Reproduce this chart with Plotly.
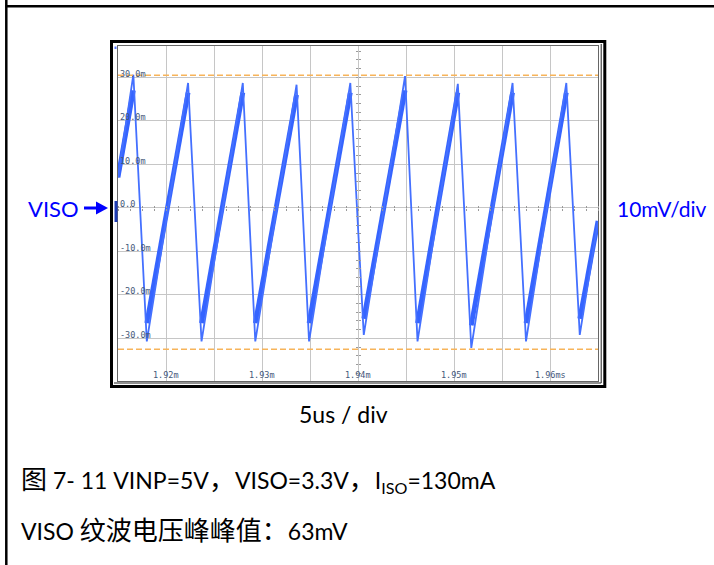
import plotly.graph_objects as go

# ---------------- data ----------------
# time in microseconds, voltage in mV
peak_t_us = [1916.6, 1922.3, 1928.0, 1933.6, 1939.2, 1944.9, 1950.4, 1956.1, 1961.7]
peak_mv = [30.6, 28.7, 28.7, 28.3, 28.7, 30.3, 28.5, 28.7, 28.7]
trough_t_us = [1918.0, 1923.7, 1929.3, 1934.9, 1940.6, 1946.2, 1951.8, 1957.5, 1963.1]
trough_mv = [-30.7, -30.7, -30.7, -30.7, -29.2, -30.7, -32.2, -30.7, -29.2]
band_top_mv = [27.0, 26.5, 26.5, 26.0, 26.5, 27.0, 26.5, 26.5, 26.5]
band_bot_mv = [-26.5, -26.5, -26.5, -26.5, -25.5, -26.5, -27.0, -26.5, -25.5]
start_t_us, start_mv = 1915.0, 7.0
end_t_us, end_mv = 1965.0, -3.0

cursor_mv = [30.5, -32.5]

x_tick_vals = [1920, 1930, 1940, 1950, 1960]
x_tick_text = ["1.92m", "1.93m", "1.94m", "1.95m", "1.96ms"]
y_tick_vals = [30, 20, 10, 0, -10, -20, -30]
y_tick_text = ["30.0m", "20.0m", "10.0m", "0.0", "-10.0m", "-20.0m", "-30.0m"]

X_RANGE = [1915, 1965]
Y_RANGE = [-39.8, 37.2]

CJK = '<span style="font-size:26px">{}</span>'
caption1 = CJK.format("图") + " 7- 11 VINP=5V" + CJK.format("，") + "VISO=3.3V" + CJK.format("，") \
    + "I<sub>ISO</sub>=130mA"
caption2 = "VISO " + CJK.format("纹波电压峰峰值：") + "63mV"

# ---------------- geometry helpers (pixel -> paper) ----------------
W, H = 714, 565
PL, PR, PT, PB = 118, 598, 46, 381


def fx(p):
    return (p - PL) / (PR - PL)


def fy(p):
    return (PB - p) / (PB - PT)


# ---------------- build traces ----------------
thin_x, thin_y = [start_t_us], [start_mv]
for pt, pv, tt, tv in zip(peak_t_us, peak_mv, trough_t_us, trough_mv):
    thin_x += [pt, tt]
    thin_y += [pv, tv]
thin_x.append(end_t_us)
thin_y.append(end_mv)

band_x = [start_t_us, peak_t_us[0], None]
band_y = [start_mv, band_top_mv[0], None]
n = len(trough_t_us)
for i in range(n):
    band_x.append(trough_t_us[i])
    band_y.append(band_bot_mv[i])
    if i + 1 < n:
        band_x += [peak_t_us[i + 1], None]
        band_y += [band_top_mv[i + 1], None]
    else:
        band_x.append(end_t_us)
        band_y.append(end_mv)

BLUE = "#3564FF"
fig = go.Figure()
fig.add_trace(go.Scatter(x=band_x, y=band_y, mode="lines",
                         line=dict(color=BLUE, width=4.8), hoverinfo="skip",
                         showlegend=False))
fig.add_trace(go.Scatter(x=thin_x, y=thin_y, mode="lines",
                         line=dict(color="#4470FF", width=1.8), hoverinfo="skip",
                         showlegend=False))
# invisible traces to activate crosshair tick axes
fig.add_trace(go.Scatter(x=[X_RANGE[0]], y=[0], xaxis="x2", yaxis="y", mode="markers",
                         marker=dict(opacity=0), hoverinfo="skip", showlegend=False))
fig.add_trace(go.Scatter(x=[X_RANGE[0]], y=[0], xaxis="x3", yaxis="y", mode="markers",
                         marker=dict(opacity=0), hoverinfo="skip", showlegend=False))
fig.add_trace(go.Scatter(x=[X_RANGE[0]], y=[0], xaxis="x", yaxis="y2", mode="markers",
                         marker=dict(opacity=0), hoverinfo="skip", showlegend=False))
fig.add_trace(go.Scatter(x=[X_RANGE[0]], y=[0], xaxis="x", yaxis="y3", mode="markers",
                         marker=dict(opacity=0), hoverinfo="skip", showlegend=False))

zero_pos = (0 - Y_RANGE[0]) / (Y_RANGE[1] - Y_RANGE[0])
mid_pos = (1940 - X_RANGE[0]) / (X_RANGE[1] - X_RANGE[0])

GRID = "#C6C6C6"
TICKC = "#9A9A9A"
fig.update_layout(
    width=W, height=H,
    margin=dict(l=PL, r=W - PR, t=PT, b=H - PB),
    paper_bgcolor="white", plot_bgcolor="white",
    xaxis=dict(range=X_RANGE, showgrid=True, gridcolor=GRID, gridwidth=1.2,
               tick0=1915, dtick=5, showticklabels=False, ticks="", zeroline=False,
               showline=True, linecolor="#666666", linewidth=1, mirror=True, fixedrange=True),
    yaxis=dict(range=Y_RANGE, showgrid=True, gridcolor=GRID, gridwidth=1.2,
               tick0=0, dtick=10, showticklabels=False, ticks="", zeroline=False,
               showline=True, linecolor="#666666", linewidth=1, mirror=True, fixedrange=True),
    xaxis2=dict(range=X_RANGE, overlaying="x", anchor="free", position=zero_pos, side="bottom",
                tick0=1915, dtick=1.25, ticks="outside", ticklen=2, tickcolor=TICKC,
                showticklabels=False, showgrid=False, zeroline=False, showline=False),
    xaxis3=dict(range=X_RANGE, overlaying="x", anchor="free", position=zero_pos, side="top",
                tick0=1915, dtick=1.25, ticks="outside", ticklen=2, tickcolor=TICKC,
                showticklabels=False, showgrid=False, zeroline=False, showline=False),
    yaxis2=dict(range=Y_RANGE, overlaying="y", anchor="free", position=mid_pos, side="left",
                tick0=0, dtick=2, ticks="outside", ticklen=2, tickcolor=TICKC,
                showticklabels=False, showgrid=False, zeroline=False, showline=False),
    yaxis3=dict(range=Y_RANGE, overlaying="y", anchor="free", position=mid_pos, side="right",
                tick0=0, dtick=2, ticks="outside", ticklen=2, tickcolor=TICKC,
                showticklabels=False, showgrid=False, zeroline=False, showline=False),
    showlegend=False,
)

shapes = []
# cursor lines
for cv in cursor_mv:
    shapes.append(dict(type="line", xref="x domain", yref="y", x0=0, x1=1, y0=cv, y1=cv,
                       line=dict(color="#F7B45A", width=1.5, dash="6px,3px")))
# scope frame
shapes.append(dict(type="rect", xref="paper", yref="paper",
                   x0=fx(111.5), x1=fx(604.8), y0=fy(386.5), y1=fy(41.5),
                   line=dict(color="black", width=3)))
shapes.append(dict(type="line", xref="paper", yref="paper",
                   x0=fx(601.2), x1=fx(601.2), y0=fy(383), y1=fy(44),
                   line=dict(color="#222222", width=1)))
shapes.append(dict(type="line", xref="paper", yref="paper",
                   x0=fx(114), x1=fx(601.2), y0=fy(383), y1=fy(383),
                   line=dict(color="#222222", width=1)))
# channel markers
shapes.append(dict(type="rect", xref="paper", yref="paper",
                   x0=fx(114.5), x1=fx(117.5), y0=fy(222), y1=fy(201),
                   line=dict(width=0), fillcolor="#1E3CB4"))
shapes.append(dict(type="rect", xref="paper", yref="paper",
                   x0=fx(114.5), x1=fx(116.5), y0=fy(49), y1=fy(46.5),
                   line=dict(width=0), fillcolor="#5878FF"))
# VISO arrow
shapes.append(dict(type="line", xref="paper", yref="paper",
                   x0=fx(84), x1=fx(99), y0=fy(208), y1=fy(208),
                   line=dict(color="#0000FF", width=3)))
shapes.append(dict(type="path", xref="paper", yref="paper",
                   path="M {a},{b} L {c},{d} L {e},{f} Z".format(
                       a=fx(96), b=fy(201.5), c=fx(108), d=fy(208), e=fx(96), f=fy(214.5)),
                   line=dict(width=0), fillcolor="#0000FF"))
# outer cell border
shapes.append(dict(type="line", xref="paper", yref="paper",
                   x0=fx(5.5), x1=fx(714), y0=fy(6.3), y1=fy(6.3),
                   line=dict(color="black", width=2.5)))
shapes.append(dict(type="line", xref="paper", yref="paper",
                   x0=fx(6.3), x1=fx(6.3), y0=fy(0), y1=fy(565),
                   line=dict(color="black", width=2.5)))
fig.update_layout(shapes=shapes)

ann = []
MONO = dict(family="DejaVu Sans Mono", size=8.5, color="#44587A")
for v, t in zip(y_tick_vals, y_tick_text):
    ann.append(dict(x=0, xref="x domain", y=v, yref="y", text=t, showarrow=False,
                    xanchor="left", yanchor="middle", xshift=0, yshift=3.5, font=MONO))
for v, t in zip(x_tick_vals, x_tick_text):
    ann.append(dict(x=v, xref="x", y=0, yref="y domain", text=t, showarrow=False,
                    xanchor="center", yanchor="bottom", yshift=-1, font=MONO))

FONT = "Lato, 'Noto Sans CJK SC', sans-serif"
ann.append(dict(x=fx(81), y=fy(208), xref="paper", yref="paper", text="VISO",
                showarrow=False, xanchor="right", yanchor="middle",
                font=dict(family=FONT, size=22, color="#0000FF")))
ann.append(dict(x=fx(615), y=fy(208), xref="paper", yref="paper", text="10mV/div",
                showarrow=False, xanchor="left", yanchor="middle",
                font=dict(family=FONT, size=21, color="#0000FF")))
ann.append(dict(x=fx(343), y=fy(414), xref="paper", yref="paper", text="5us / div",
                showarrow=False, xanchor="center", yanchor="middle",
                font=dict(family=FONT, size=23, color="black")))
ann.append(dict(x=fx(19), y=fy(480), xref="paper", yref="paper", text=caption1,
                showarrow=False, xanchor="left", yanchor="middle",
                font=dict(family=FONT, size=23, color="black")))
ann.append(dict(x=fx(19), y=fy(530), xref="paper", yref="paper", text=caption2,
                showarrow=False, xanchor="left", yanchor="middle",
                font=dict(family=FONT, size=23, color="black")))
fig.update_layout(annotations=ann)

fig.write_html("out.html", config={"displayModeBar": False},
               post_script="document.body.style.margin='0px';")
